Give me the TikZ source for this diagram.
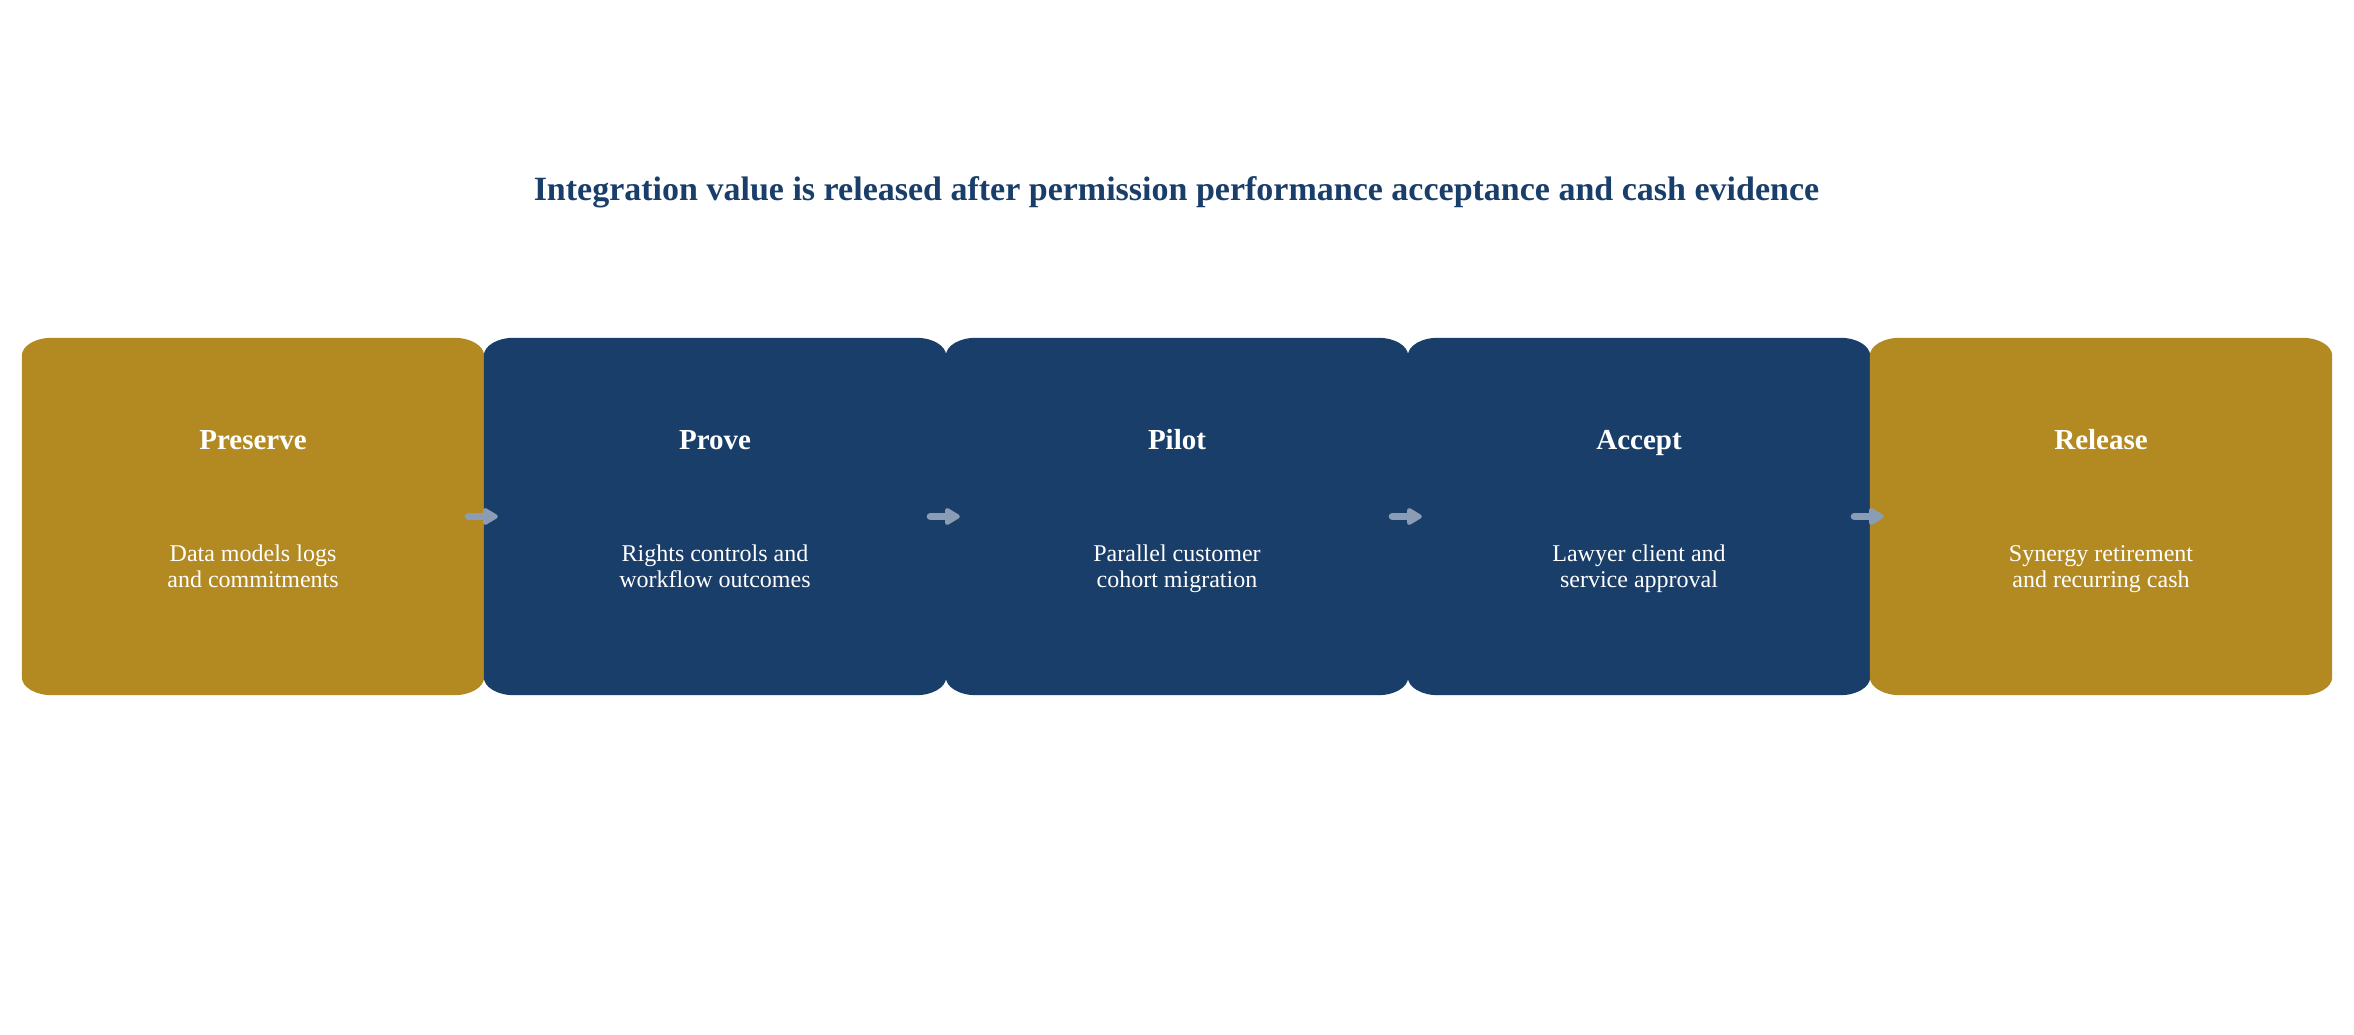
\documentclass[tikz,border=0pt]{standalone}
\usepackage{fontspec}
\setmainfont{Liberation Serif}
\usetikzlibrary{arrows.meta}
\definecolor{stagegold}{HTML}{B38A22}
\definecolor{stagenavy}{HTML}{1A3E6A}
\definecolor{flowgray}{HTML}{8A9DB5}

% filled stage with elliptic corners round node #1
\newcommand\stagefill[2]{%
  \fill[#2] ([xshift=30pt]#1.north west) -- ([xshift=-30pt]#1.north east)
    arc[start angle=90,end angle=0,x radius=30pt,y radius=18pt]
    -- ([yshift=18pt]#1.south east)
    arc[start angle=0,end angle=-90,x radius=30pt,y radius=18pt]
    -- ([xshift=30pt]#1.south west)
    arc[start angle=270,end angle=180,x radius=30pt,y radius=18pt]
    -- ([yshift=-18pt]#1.north west)
    arc[start angle=180,end angle=90,x radius=30pt,y radius=18pt] -- cycle;}

\begin{document}
\begin{tikzpicture}[x=1pt,y=1pt,
  stage/.style={minimum width=462pt,minimum height=357pt,inner sep=0pt},
  head/.style={text=white,anchor=base,font=\fontsize{29}{32}\selectfont\bfseries},
  body/.style={text=white,anchor=base,align=center,font=\fontsize{24}{26}\selectfont},
  flow/.style={draw=flowgray,line width=7pt,line cap=round,
    -{Triangle[length=17pt,width=19pt,round]}}]
   \useasboundingbox (0,0) rectangle (2354,1034);

   \node[text=stagenavy,anchor=base,font=\fontsize{34}{37}\selectfont\bfseries] (title) at (1176.5,833)
      {Integration value is released after permission performance acceptance and cash evidence};

   \node[stage] (preserve) at (253,517.5) {};
   \node[stage] (prove)    at (715,517.5) {};
   \node[stage] (pilot)    at (1177,517.5) {};
   \node[stage] (accept)   at (1639,517.5) {};
   \node[stage] (release)  at (2101,517.5) {};

   \stagefill{preserve}{stagegold}
   \stagefill{prove}{stagenavy}
   \stagefill{pilot}{stagenavy}
   \stagefill{accept}{stagenavy}
   \stagefill{release}{stagegold}

   \node[head] (preserveh) at (253,584.5)  {Preserve};
   \node[head] (proveh)    at (715,584.5)  {Prove};
   \node[head] (piloth)    at (1177,584.5) {Pilot};
   \node[head] (accepth)   at (1639,584.5) {Accept};
   \node[head] (releaseh)  at (2101,584.5) {Release};

   \node[body] (preserveb) at (253,446)  {Data models logs\\and commitments};
   \node[body] (proveb)    at (715,446)  {Rights controls and\\workflow outcomes};
   \node[body] (pilotb)    at (1177,446) {Parallel customer\\cohort migration};
   \node[body] (acceptb)   at (1639,446) {Lawyer client and\\service approval};
   \node[body] (releaseb)  at (2101,446) {Synergy retirement\\and recurring cash};

   \draw[flow] ([xshift=-16pt]preserve.east) -- ([xshift=14pt]prove.west);
   \draw[flow] ([xshift=-16pt]prove.east)    -- ([xshift=14pt]pilot.west);
   \draw[flow] ([xshift=-16pt]pilot.east)    -- ([xshift=14pt]accept.west);
   \draw[flow] ([xshift=-16pt]accept.east)   -- ([xshift=14pt]release.west);
\end{tikzpicture}
\end{document}
